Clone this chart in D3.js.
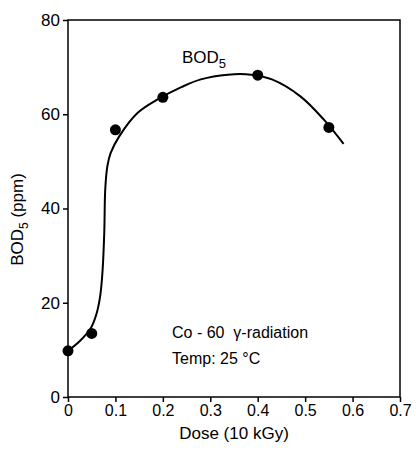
<!DOCTYPE html>
<meta charset="utf-8">
<head>
<title>BOD5 vs dose</title>
<script src="https://d3js.org/d3.v7.min.js"></script>
<style>
  body { margin: 0; background: #fff; }
  svg text { font-family: "Liberation Sans", Arial, sans-serif; fill: #000; }
</style>
</head>
<body>
<div id="chart"></div>
<script>
// measured points
var doseVals = [0, 0.05, 0.1, 0.2, 0.4, 0.55];
var bodVals  = [9.8, 13.5, 56.7, 63.6, 68.3, 57.2];

// hand-drawn fitted curve
var curveDose = [0, 0.025, 0.048, 0.06, 0.068, 0.073, 0.0765, 0.0785, 0.083, 0.09, 0.108, 0.147, 0.19, 0.24, 0.28, 0.337, 0.386, 0.43, 0.49, 0.54, 0.581];
var curveBod  = [9.8, 11.9, 14.6, 17.6, 21.5, 27, 35, 44, 49, 51.8, 55.3, 60.3, 63.2, 65.8, 67.4, 68.4, 68.4, 67.4, 63.8, 58.8, 53.7];

var xTicks = [0, 0.1, 0.2, 0.3, 0.4, 0.5, 0.6, 0.7];
var yTicks = [0, 20, 40, 60, 80];

var margin = {top: 20, right: 16, bottom: 55, left: 68},
    width = 416 - margin.left - margin.right,
    height = 452 - margin.top - margin.bottom;

var svg = d3.select("#chart")
  .append("svg")
  .attr("width", 416)
  .attr("height", 452)
  .append("g")
    .attr("transform", "translate(" + margin.left + "," + margin.top + ")");

var x = d3.scaleLinear().domain([0, 0.7]).range([0, width]);
var y = d3.scaleLinear().domain([0, 80]).range([height, 0]);

// frame
svg.append("rect")
  .attr("x", 0).attr("y", 0)
  .attr("width", width).attr("height", height)
  .attr("fill", "none")
  .attr("stroke", "#000")
  .attr("stroke-width", 1.5);

// x axis
var xaxis = svg.append("g")
  .attr("transform", "translate(0," + height + ")")
  .call(d3.axisBottom(x).tickValues(xTicks).tickSize(5).tickPadding(3)
    .tickFormat(function(d) { return d === 0 ? "0" : d3.format(".1f")(d); }));
xaxis.select(".domain").remove();
xaxis.selectAll("line").attr("stroke", "#000").attr("stroke-width", 1.5);
xaxis.selectAll("text").style("font-size", "16px");

// y axis
var yaxis = svg.append("g")
  .call(d3.axisLeft(y).tickValues(yTicks).tickSize(5).tickPadding(3));
yaxis.select(".domain").remove();
yaxis.selectAll("line").attr("stroke", "#000").attr("stroke-width", 1.5);
yaxis.selectAll("text").style("font-size", "17px");

// fitted curve
var line = d3.line()
  .x(function(d) { return x(d[0]); })
  .y(function(d) { return y(d[1]); })
  .curve(d3.curveCatmullRom.alpha(0.5));

svg.append("path")
  .datum(d3.zip(curveDose, curveBod))
  .attr("d", line)
  .attr("fill", "none")
  .attr("stroke", "#000")
  .attr("stroke-width", 2);

// dots
svg.selectAll("dots")
  .data(d3.zip(doseVals, bodVals))
  .enter()
  .append("circle")
  .attr("cx", function(d) { return x(d[0]); })
  .attr("cy", function(d) { return y(d[1]); })
  .attr("r", 5.5)
  .attr("fill", "#000");

// axis titles
svg.append("text")
  .attr("x", width / 2)
  .attr("y", height + 42)
  .attr("text-anchor", "middle")
  .style("font-size", "17px")
  .text("Dose (10 kGy)");

var ytitle = svg.append("text")
  .attr("transform", "translate(-45," + (height / 2 + 11) + ") rotate(-90)")
  .attr("text-anchor", "middle")
  .style("font-size", "17px");
ytitle.append("tspan").text("BOD");
ytitle.append("tspan").attr("dy", 5).style("font-size", "12px").text("5");
ytitle.append("tspan").attr("dy", -5).text(" (ppm)");

// curve label
var lab = svg.append("text")
  .attr("x", 182 - margin.left)
  .attr("y", 63 - margin.top)
  .style("font-size", "17px");
lab.append("tspan").text("BOD");
lab.append("tspan").attr("dy", 5).style("font-size", "13px").text("5");

// notes
svg.append("text")
  .attr("x", 172 - margin.left)
  .attr("y", 338 - margin.top)
  .style("font-size", "16px")
  .text("Co - 60 \u00a0\u03b3-radiation");
svg.append("text")
  .attr("x", 172 - margin.left)
  .attr("y", 364 - margin.top)
  .style("font-size", "16px")
  .text("Temp: 25 \u00b0C");
</script>
</body>
</html>
